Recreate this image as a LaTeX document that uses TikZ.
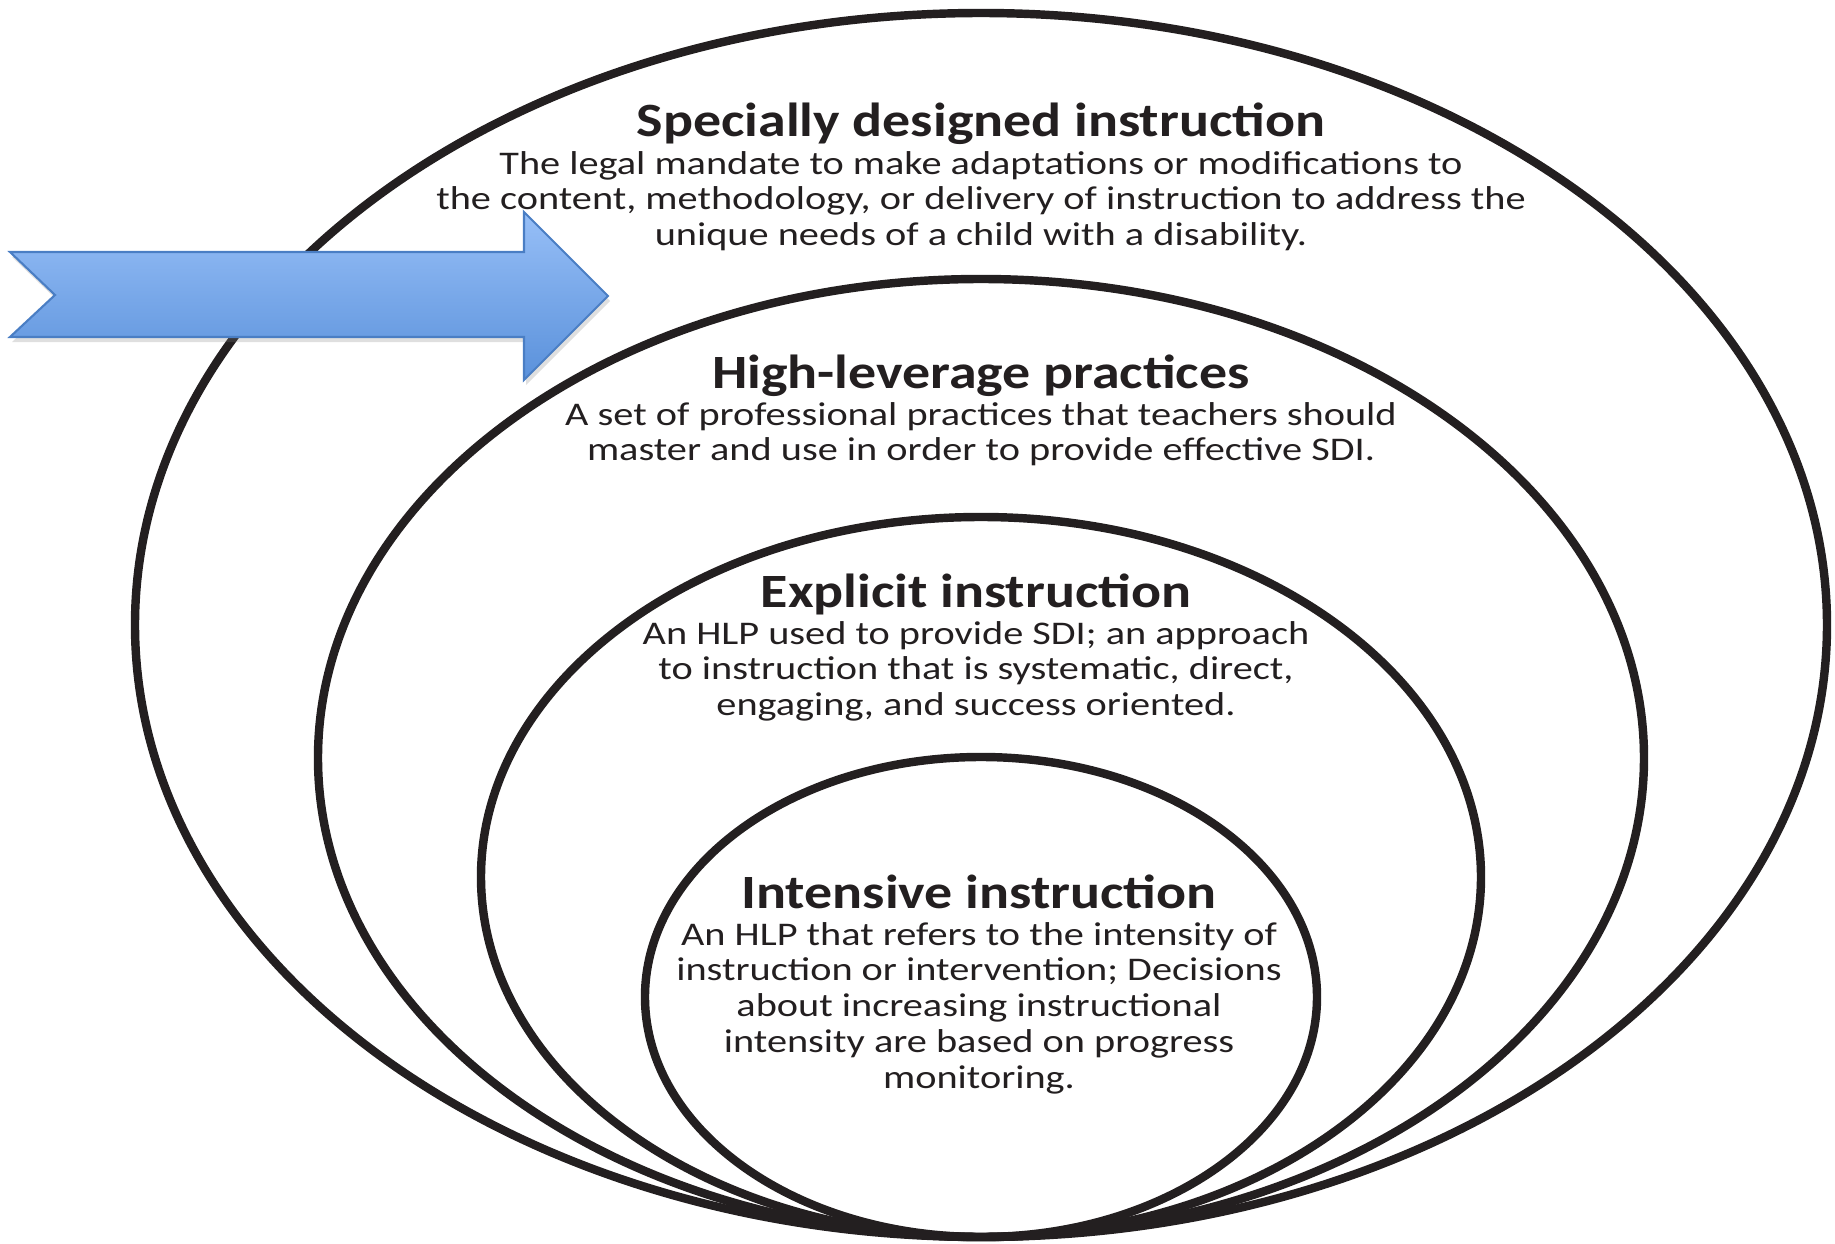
\documentclass[tikz,border=0pt]{standalone}
\usepackage{fontspec}
\setmainfont{Carlito}
\usetikzlibrary{positioning, shadows}
\definecolor{ringblack}{HTML}{231F20}
\definecolor{arrowtop}{HTML}{97BFF7}
\definecolor{arrowbot}{HTML}{5A91DB}
\definecolor{arrowedge}{HTML}{4A7EC4}

\begin{document}
\begin{tikzpicture}[
  ring/.style={line width=2.4pt, draw=ringblack},
  lvltitle/.style={font=\fontsize{13.6}{15}\selectfont\bfseries, text=ringblack,
    inner sep=0pt, anchor=base, xscale=1.17, transform shape},
  lvltext/.style={font=\fontsize{9.4}{10.2}\selectfont, text=ringblack,
    align=center, inner sep=0pt, anchor=north, xscale=1.22, transform shape}
]
  \useasboundingbox (0,0) rectangle (18.35,12.43);

  % nested rings, all resting on the same bottom point
  \draw[ring] (9.81,6.18) ellipse (8.46 and 6.12);
  \draw[ring] (9.81,4.85) ellipse (6.63 and 4.79);
  \draw[ring] (9.81,3.66) ellipse (5.00 and 3.60);
  \draw[ring] (9.81,2.46) ellipse (3.36 and 2.40);

  % labels of each ring
  \node[lvltitle] (sdi) at (9.81,11.06) {Specially designed instruction};
  \node[lvltext, below=0.135 of sdi.base] (sditxt)
    {The legal mandate to make adaptations or modifications to\\
     the content, methodology, or delivery of instruction to address the\\
     unique needs of a child with a disability.};

  \node[lvltitle] (hlp) at (9.81,8.55) {High-leverage practices};
  \node[lvltext, below=0.135 of hlp.base] (hlptxt)
    {A set of professional practices that teachers should\\
     master and use in order to provide effective SDI.};

  \node[lvltitle] (expl) at (9.76,6.36) {Explicit instruction};
  \node[lvltext, below=0.135 of expl.base] (expltxt)
    {An HLP used to provide SDI; an approach\\
     to instruction that is systematic, direct,\\
     engaging, and success oriented.};

  \node[lvltitle] (intens) at (9.79,3.35) {Intensive instruction};
  \node[lvltext, below=0.135 of intens.base] (intenstxt)
    {An HLP that refers to the intensity of\\
     instruction or intervention; Decisions\\
     about increasing instructional\\
     intensity are based on progress\\
     monitoring.};

  % notched block arrow pointing at the second ring
  \filldraw[draw=arrowedge, line width=0.6pt, top color=arrowtop, bottom color=arrowbot,
    drop shadow={opacity=0.25, shadow xshift=0.02, shadow yshift=-0.05}]
    (0.10,9.91) -- (5.24,9.91) -- (5.24,10.31) -- (6.08,9.47)
    -- (5.24,8.63) -- (5.24,9.06) -- (0.10,9.06) -- (0.55,9.48) -- cycle;
\end{tikzpicture}
\end{document}
